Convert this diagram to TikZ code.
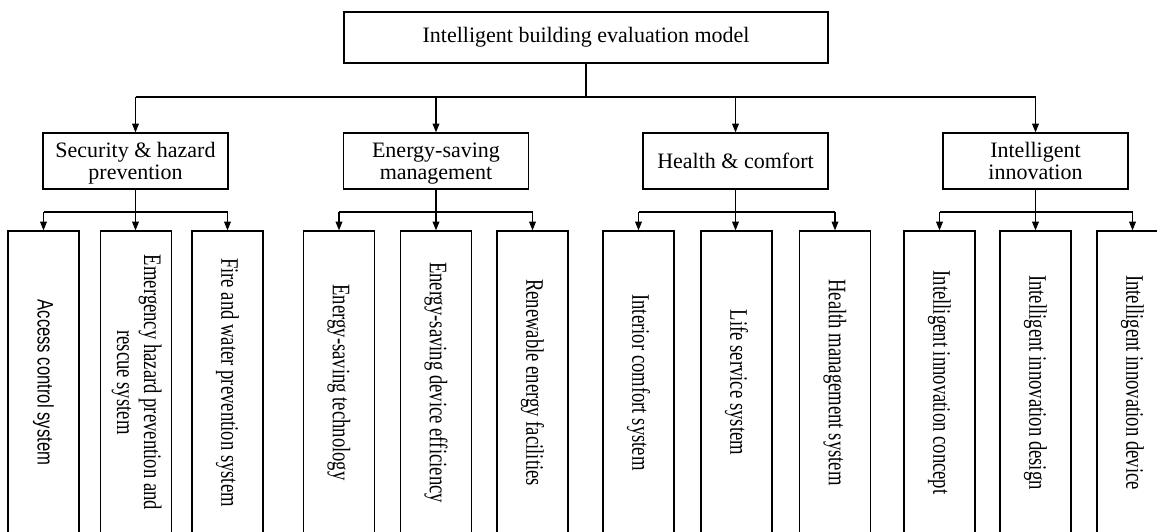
\documentclass[tikz,border=0pt]{standalone}
\usepackage{graphicx}
\usepackage{fontspec}
\setmainfont{Liberation Serif}
\newfontfamily\arialfont{Liberation Sans}
\usetikzlibrary{arrows.meta}
\newcommand{\leaftext}[1]{\rotatebox{-90}{\scalebox{1}[1.35]{#1}}}
\newcommand{\cattext}[1]{\raisebox{-2.5pt}[\height][\depth]{\begin{tabular}{@{}c@{}}#1\end{tabular}}}
\begin{document}
\begin{tikzpicture}[x=0.75pt,y=-0.75pt,
  box/.style={draw, line width=0.9pt, inner sep=0pt, align=center},
  topbox/.style={box, minimum width=363pt, minimum height=38.25pt, font=\fontsize{16.5}{16.5}\selectfont},
  catbox/.style={box, minimum width=138.75pt, minimum height=42pt, font=\fontsize{16.5}{16.5}\selectfont},
  leafbox/.style={box, minimum width=53.25pt, minimum height=227.25pt, font=\fontsize{14}{15}\selectfont},
  link/.style={line width=0.9pt},
  arr/.style={link, -{Triangle[length=6.5pt,width=5pt]}}]
\useasboundingbox (0,0) rectangle (1157,532);
\clip (0,0) rectangle (1157,532);
\fill[white] (0,0) rectangle (1157,532);

\coordinate (lvl2) at (0,97);
\coordinate (lvl3) at (0,212);

\node[topbox] (top) at (586,37.5) {Intelligent building evaluation model};

\node[catbox] (sec) at (135.5,161) {\cattext{Security \& hazard\\prevention}};
\node[catbox] (ene) at (436,161) {\cattext{Energy-saving\\management}};
\node[catbox] (hea) at (735.5,161) {\cattext{Health \& comfort}};
\node[catbox] (inn) at (1035.5,161) {\cattext{Intelligent\\innovation}};

\node[leafbox] (s1) at (43.5,382.5) {\leaftext{\arialfont\fontsize{12.5}{15}\selectfont Access control system}};
\node[leafbox] (s2) at (136,382.5) {\leaftext{\begin{tabular}{@{}c@{}}Emergency hazard prevention and\\rescue system\end{tabular}}};
\node[leafbox] (s3) at (227.5,382.5) {\leaftext{Fire and water prevention system}};

\node[leafbox] (e1) at (339,382.5) {\leaftext{Energy-saving technology}};
\node[leafbox] (e2) at (436,382.5) {\leaftext{Energy-saving device efficiency}};
\node[leafbox] (e3) at (532.5,382.5) {\leaftext{Renewable energy facilities}};

\node[leafbox] (h1) at (638.5,382.5) {\leaftext{Interior comfort system}};
\node[leafbox] (h2) at (736.5,382.5) {\leaftext{Life service system}};
\node[leafbox] (h3) at (835,382.5) {\leaftext{Health management system}};

\node[leafbox] (i1) at (939.5,382.5) {\leaftext{Intelligent innovation concept}};
\node[leafbox] (i2) at (1035.5,382.5) {\leaftext{Intelligent innovation design}};
\node[leafbox] (i3) at (1132.5,382.5) {\leaftext{Intelligent innovation device}};

% level 1 -> level 2
\draw[link] (top.south) -- (top.south |- lvl2);
\draw[link] (sec.north |- lvl2) -- (inn.north |- lvl2);
\foreach \c in {sec,ene,hea,inn}
  \draw[arr] (\c.north |- lvl2) -- (\c.north);

% level 2 -> leaves
\foreach \c/\a/\b/\d in {sec/s1/s2/s3, ene/e1/e2/e3, hea/h1/h2/h3, inn/i1/i2/i3}{
  \draw[arr] (\c.south) -- (\c.south |- \b.north);
  \draw[link] (\a.north |- lvl3) -- (\d.north |- lvl3);
  \draw[arr] (\a.north |- lvl3) -- (\a.north);
  \draw[arr] (\d.north |- lvl3) -- (\d.north);
}
\end{tikzpicture}
\end{document}
